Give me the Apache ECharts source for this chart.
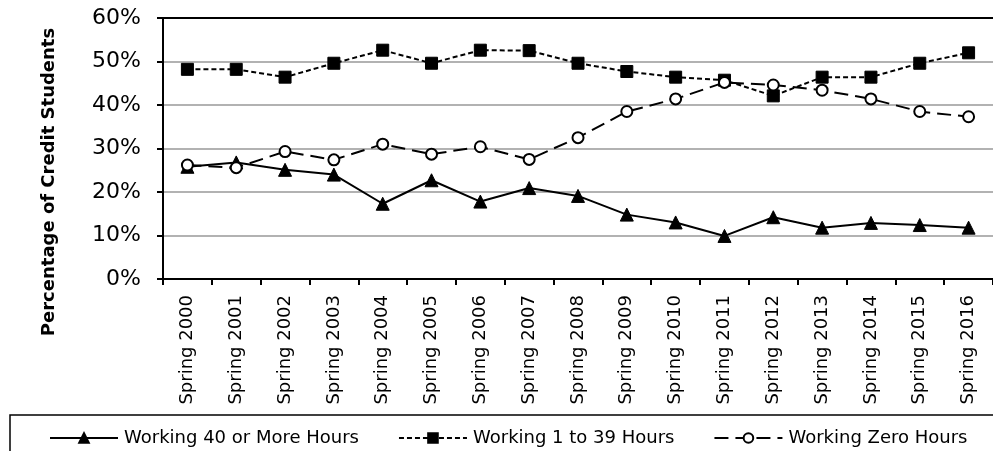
<!DOCTYPE html>
<html>
<head>
<meta charset="utf-8">
<script src="https://cdn.jsdelivr.net/npm/echarts@6/dist/echarts.min.js"></script>
<style>
html,body{margin:0;padding:0;background:#fff;}
#chart{width:993px;height:451px;}
</style>
</head>
<body>
<div id="chart"></div>
<script>
const categories = ['Spring 2000','Spring 2001','Spring 2002','Spring 2003','Spring 2004','Spring 2005','Spring 2006','Spring 2007','Spring 2008','Spring 2009','Spring 2010','Spring 2011','Spring 2012','Spring 2013','Spring 2014','Spring 2015','Spring 2016'];
const hours40 = [25.8, 26.8, 25.1, 24.0, 17.3, 22.7, 17.8, 20.9, 19.1, 14.8, 13.0, 9.9, 14.2, 11.8, 12.9, 12.4, 11.8];
const hours1to39 = [48.2, 48.2, 46.4, 49.6, 52.6, 49.6, 52.6, 52.5, 49.6, 47.7, 46.4, 45.7, 42.1, 46.4, 46.4, 49.6, 52.0];
const hoursZero = [26.2, 25.6, 29.3, 27.4, 31.0, 28.7, 30.4, 27.5, 32.5, 38.5, 41.4, 45.2, 44.6, 43.4, 41.4, 38.5, 37.3];
const seriesNames = ['Working 40 or More Hours', 'Working 1 to 39 Hours', 'Working Zero Hours'];
const yTicks = { min: 0, max: 60, interval: 10 };
const yAxisTitle = 'Percentage of Credit Students';

const chart = echarts.init(document.getElementById('chart'), null, {renderer: 'canvas'});
const FONT = '"DejaVu Sans", Verdana, sans-serif';

chart.setOption({
  animation: false,
  backgroundColor: '#fff',
  grid: { left: 163, right: 0, top: 18, bottom: 172, containLabel: false },
  xAxis: [{
    type: 'category',
    data: categories,
    boundaryGap: true,
    axisLine: { show: true, lineStyle: { color: '#000', width: 2 } },
    axisTick: { show: true, inside: false, length: 6, lineStyle: { color: '#000', width: 2 } },
    axisLabel: { rotate: 90, color: '#000', fontFamily: FONT, fontSize: 18, margin: 16, interval: 0 },
    splitLine: { show: false }
  }, {
    type: 'category',
    data: categories,
    position: 'top',
    axisLine: { show: true, onZero: false, lineStyle: { color: '#000', width: 2 } },
    axisTick: { show: false },
    axisLabel: { show: false },
    splitLine: { show: false }
  }],
  yAxis: {
    type: 'value',
    min: yTicks.min, max: yTicks.max, interval: yTicks.interval,
    axisLine: { show: true, lineStyle: { color: '#000', width: 2 } },
    axisTick: { show: true, inside: false, length: 6, lineStyle: { color: '#000', width: 2 } },
    axisLabel: { formatter: '{value}%', color: '#000', fontFamily: FONT, fontSize: 22, margin: 22 },
    splitLine: { show: true, lineStyle: { color: '#999', width: 1.5 } }
  },
  legend: {
    show: true,
    data: seriesNames,
    left: 44,
    top: 424,
    itemWidth: 68,
    itemHeight: 12,
    itemGap: 39,
    textStyle: { color: '#000', fontFamily: FONT, fontSize: 18, padding: [0,0,0,1] }
  },
  graphic: [
    {
      type: 'rect',
      shape: { x: 10, y: 415, width: 1000, height: 60 },
      style: { fill: 'none', stroke: '#000', lineWidth: 1.5 },
      z: 0
    },
    {
      type: 'text',
      x: 49, y: 182,
      rotation: Math.PI / 2,
      style: {
        text: yAxisTitle,
        font: 'bold 18px ' + FONT,
        fill: '#000',
        textAlign: 'center',
        textVerticalAlign: 'middle'
      }
    }
  ],
  series: [
    {
      name: seriesNames[0],
      type: 'line',
      data: hours40,
      symbol: 'triangle',
      symbolSize: 13,
      showAllSymbol: true,
      lineStyle: { color: '#000', width: 2, type: 'solid' },
      itemStyle: { color: '#000', borderColor: '#000', borderWidth: 1 }
    },
    {
      name: seriesNames[1],
      type: 'line',
      data: hours1to39,
      symbol: 'rect',
      symbolSize: 12,
      showAllSymbol: true,
      lineStyle: { color: '#000', width: 2, type: [5, 3] },
      itemStyle: { color: '#000', borderColor: '#000', borderWidth: 1 }
    },
    {
      name: seriesNames[2],
      type: 'line',
      data: hoursZero,
      symbol: 'circle',
      symbolSize: 11,
      showAllSymbol: true,
      lineStyle: { color: '#000', width: 2, type: [14, 7] },
      itemStyle: { color: '#fff', borderColor: '#000', borderWidth: 2 }
    }
  ]
});
</script>
</body>
</html>
